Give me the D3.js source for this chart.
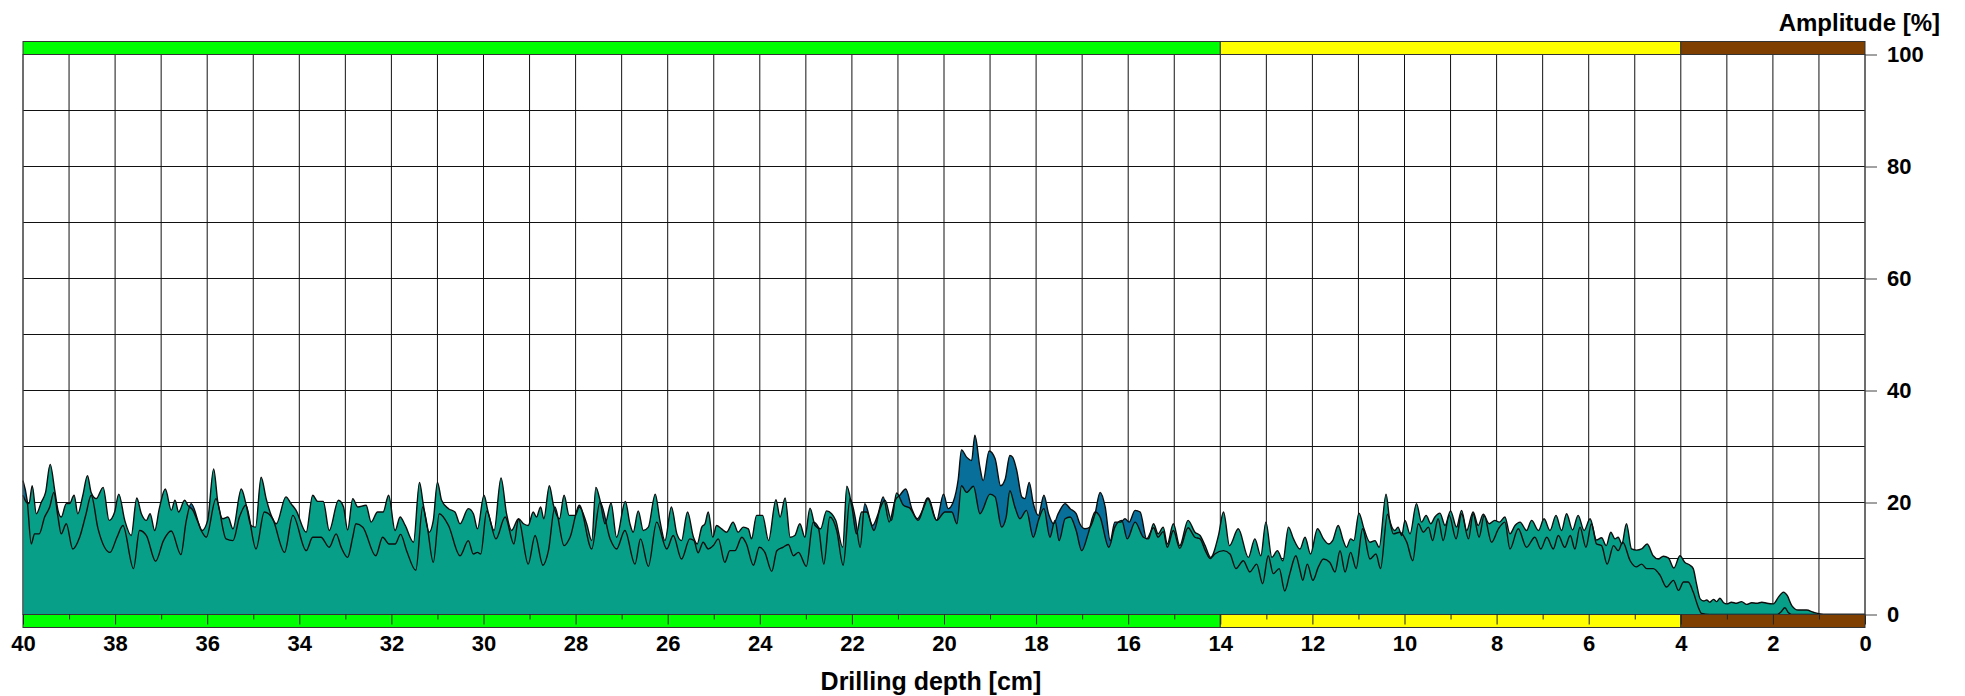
<!DOCTYPE html>
<html>
<head>
<meta charset="utf-8">
<script src="https://cdn.jsdelivr.net/npm/d3@7"></script>
<style>
  body { margin: 0; background: #fff; }
  text { font-family: "Liberation Sans", Arial, sans-serif; font-weight: bold; fill: #000; }
</style>
</head>
<body>
<div class="drill-chart"></div>
<script>
// [depth cm, amplitude %]
const tealSeries = [
  [40.00,21.3],[39.93,20.1],[39.87,19.8],[39.80,23.0],[39.71,18.0],[39.60,20.1],[39.51,21.8],[39.41,26.8],[39.31,22.1],[39.24,18.6],
  [39.17,17.4],[39.06,19.8],[38.99,19.8],[38.89,21.3],[38.81,18.0],[38.70,21.3],[38.60,24.8],[38.52,21.8],[38.41,20.7],[38.26,22.7],
  [38.13,16.8],[38.01,18.3],[37.92,21.5],[37.79,16.8],[37.65,14.1],[37.53,20.8],[37.43,18.0],[37.32,16.8],[37.24,18.0],[37.14,15.0],
  [37.04,18.9],[36.91,22.4],[36.78,18.6],[36.70,20.4],[36.62,18.3],[36.49,20.4],[36.42,19.5],[36.31,18.6],[36.20,16.5],[36.11,15.0],
  [35.99,16.8],[35.86,26.0],[35.77,20.1],[35.66,17.1],[35.55,17.4],[35.44,15.3],[35.26,22.4],[35.16,19.8],[35.05,15.9],[34.95,15.6],
  [34.83,24.5],[34.72,20.7],[34.61,17.7],[34.50,16.2],[34.29,21.0],[34.18,19.8],[34.07,18.6],[33.85,14.7],[33.71,21.3],[33.60,20.2],
  [33.48,20.2],[33.35,15.0],[33.15,20.4],[33.04,19.2],[32.95,15.1],[32.84,20.7],[32.73,19.2],[32.55,19.5],[32.44,16.5],[32.30,18.3],
  [32.18,18.3],[32.06,21.3],
  [31.92,15.0],[31.81,17.4],[31.70,15.9],[31.52,12.9],[31.39,23.6],[31.31,19.8],[31.18,14.7],[31.09,16.8],[31.00,23.6],[30.91,20.4],
  [30.76,18.9],[30.62,18.3],[30.51,16.2],[30.33,18.9],[30.22,18.0],[30.13,15.3],[29.99,21.3],[29.90,18.3],[29.77,15.0],[29.62,24.4],
  [29.50,18.0],[29.39,15.0],[29.24,17.1],[29.13,16.2],[29.03,15.9],[28.92,18.3],[28.85,17.4],[28.76,19.2],[28.69,17.1],[28.57,23.0],
  [28.48,19.5],[28.35,17.1],[28.25,21.3],[28.14,17.7],[28.01,17.7],[27.92,19.2],[27.76,16.2],[27.65,13.2],[27.56,22.7],[27.47,20.4],
  [27.36,16.2],[27.23,19.9],[27.11,13.8],[26.92,20.2],[26.82,16.2],[26.75,14.7],[26.64,18.5],[26.53,15.0],[26.42,15.6],[26.27,21.5],
  [26.17,16.8],[26.06,13.2],[25.92,19.2],[25.80,14.4],[25.70,13.2],[25.57,18.3],[25.44,13.8],
  [25.36,12.6],[25.26,15.6],[25.19,16.2],[25.12,18.3],[25.02,13.8],[24.94,15.9],[24.83,15.3],[24.72,14.7],[24.58,16.5],[24.47,14.7],
  [24.36,15.6],[24.25,15.3],[24.18,13.5],[24.07,17.7],[23.94,17.7],[23.81,13.2],[23.65,20.5],[23.56,17.4],[23.45,20.8],[23.34,13.8],
  [23.24,14.1],[23.13,16.2],[23.02,13.8],[22.91,19.0],[22.80,15.9],[22.68,15.3],[22.55,18.5],[22.44,18.0],[22.35,16.8],[22.20,12.0],
  [22.11,22.9],[22.00,19.2],[21.90,14.4],[21.79,18.3],[21.68,18.3],[21.52,15.0],[21.39,18.9],[21.28,20.4],[21.14,16.8],[21.03,21.7],
  [20.88,19.5],[20.74,19.0],[20.56,16.8],[20.36,20.8],[20.16,16.8],[19.98,18.3],[19.83,18.3],[19.72,16.2],[19.62,23.0],[19.51,21.8],
  [19.36,22.9],[19.22,18.0],[19.00,21.5],[18.89,21.0],
  [18.75,15.6],[18.65,17.4],[18.57,22.1],[18.46,19.2],[18.35,17.1],[18.21,18.6],[18.06,13.8],[17.95,16.8],[17.83,18.9],[17.70,13.8],
  [17.59,16.8],[17.50,13.2],[17.37,17.1],[17.26,17.4],[17.13,15.0],[17.01,11.4],[16.87,14.4],[16.72,18.3],[16.61,17.4],[16.42,12.0],
  [16.29,15.6],[16.14,16.8],[16.02,13.5],[15.85,16.5],[15.67,13.8],[15.56,13.5],[15.45,16.2],[15.35,14.4],[15.24,15.6],[15.15,12.6],
  [15.02,16.2],[14.88,12.3],[14.70,16.8],[14.55,14.7],[14.44,14.1],[14.33,12.3],[14.21,10.2],[14.04,14.1],[13.93,18.3],[13.80,12.3],
  [13.61,15.3],[13.39,10.2],[13.25,13.5],[13.12,10.5],[13.01,16.5],[12.88,10.2],[12.76,11.4],[12.64,9.6],[12.52,15.6],[12.41,13.5],
  [12.27,11.7],[12.16,13.8],[12.04,10.8],[11.89,15.3],[11.76,13.5],[11.65,12.6],[11.56,13.2],[11.44,15.9],[11.33,13.2],[11.26,12.0],
  [11.17,13.5],[11.10,13.2],[10.99,18.1],[10.88,15.3],[10.75,12.9],[10.64,13.2],[10.55,12.0],[10.40,21.5],[10.32,16.8],[10.21,15.0],
  [10.14,15.6],[10.06,14.1],[9.99,16.8],[9.88,14.4],[9.74,19.8],[9.63,16.5],[9.53,17.7],[9.43,16.2],[9.34,17.4],[9.23,18.1],
  [9.12,15.9],[9.00,18.5],[8.87,15.6],[8.76,18.6],[8.65,15.0],[8.51,18.3],[8.40,15.9],[8.29,17.9],[8.16,16.2],[8.04,16.8],
  [7.94,16.5],[7.82,17.4],[7.71,14.4],[7.60,15.9],[7.49,16.5],[7.35,15.0],[7.24,16.8],[7.09,15.0],[6.97,17.1],[6.84,15.0],
  [6.71,17.7],[6.59,15.0],[6.48,18.0],[6.35,15.1],[6.23,17.7],[6.10,15.0],[5.97,17.1],
  [5.83,13.3],[5.72,13.7],[5.62,12.3],[5.52,14.7],[5.43,13.5],[5.36,13.8],[5.28,12.6],[5.18,16.2],[5.07,11.7],[4.96,11.5],
  [4.85,11.7],[4.73,12.6],[4.60,10.5],[4.49,9.9],[4.38,10.4],[4.27,10.1],[4.15,8.3],[4.02,10.5],[3.91,9.3],[3.80,8.8],
  [3.73,8.2],[3.66,5.5],[3.58,2.8],[3.50,2.4],[3.44,2.6],[3.37,2.2],[3.29,2.7],[3.22,2.3],[3.15,2.9],[3.07,2.1],
  [3.00,1.9],[2.90,2.2],[2.79,2.0],[2.68,2.3],[2.57,1.8],[2.46,2.1],[2.35,2.0],[2.24,2.2],[2.13,2.0],[1.99,1.9],
  [1.88,3.1],[1.77,4.0],[1.69,3.4],[1.59,1.6],[1.45,0.8],[1.27,0.8],[1.12,0.4],[0.98,0.1],[0.83,0.0],[0.00,0.0]
];

const blueSeries = [
  [40.00,23.9],[39.91,20.4],[39.82,12.6],[39.75,14.4],[39.65,14.4],[39.53,17.4],[39.42,19.2],[39.33,21.8],[39.24,17.4],[39.17,14.4],
  [39.06,16.2],[38.92,11.7],[38.77,13.8],[38.63,18.0],[38.52,21.3],[38.37,15.3],[38.11,11.1],[37.96,13.8],[37.83,15.9],[37.60,8.2],
  [37.47,15.0],[37.32,14.1],[37.12,9.5],[36.95,13.2],[36.78,14.9],[36.57,10.7],[36.46,16.5],[36.35,19.8],[36.13,15.0],[36.02,13.8],
  [35.81,20.7],[35.59,13.5],[35.44,13.2],[35.30,17.4],[35.16,19.5],[34.94,11.7],[34.76,18.3],[34.58,17.1],[34.32,11.1],[34.14,17.7],
  [33.85,11.4],[33.71,13.8],[33.53,13.8],[33.35,12.0],[33.20,14.4],[33.09,12.0],[32.95,10.2],[32.84,13.8],[32.77,16.2],[32.62,15.6],
  [32.34,10.5],[32.19,13.8],[32.05,12.6],
  [31.92,12.6],[31.80,14.3],[31.67,11.4],[31.47,7.9],[31.32,19.2],[31.23,16.2],[31.09,9.3],[30.96,18.0],[30.76,15.9],[30.51,10.5],
  [30.33,13.2],[30.22,10.8],[30.13,11.1],[30.06,10.8],[29.93,18.5],[29.73,13.5],[29.53,17.4],[29.34,12.6],[29.24,17.0],[29.03,9.0],
  [28.88,14.1],[28.71,8.8],[28.59,11.4],[28.45,19.2],[28.25,12.3],[28.12,13.8],[27.92,19.5],[27.65,11.7],[27.47,20.1],[27.25,13.5],
  [27.11,11.7],[26.93,15.0],[26.71,9.0],[26.59,13.5],[26.42,8.6],[26.24,16.5],[26.02,11.7],[25.88,14.1],[25.70,9.9],[25.52,13.5],
  [25.43,13.2],[25.34,11.0],[25.23,12.9],[25.12,11.7],[25.01,12.3],[24.90,13.5],[24.76,9.3],[24.65,11.4],[24.54,11.4],[24.39,13.8],
  [24.29,12.6],[24.14,8.8],[24.01,12.0],[23.89,11.1],[23.74,7.7],[23.63,11.4],[23.50,12.0],[23.38,12.5],[23.27,10.5],[23.16,11.1],
  [22.99,8.6],[22.84,16.5],[22.73,15.6],[22.61,9.0],[22.48,17.4],[22.33,15.0],[22.19,8.8],[22.04,20.7],[21.93,17.4],[21.82,12.0],
  [21.72,19.8],[21.55,15.9],[21.43,18.0],[21.32,21.0],[21.19,16.5],[21.06,20.4],[20.96,21.3],[20.83,22.4],[20.70,18.9],[20.58,17.1],
  [20.45,18.9],[20.34,20.8],[20.16,16.8],[20.01,21.5],[19.91,18.9],[19.80,20.1],[19.69,24.2],[19.62,29.4],[19.51,28.1],[19.40,27.5],
  [19.33,32.0],[19.22,26.3],[19.15,23.9],[19.02,29.2],[18.89,27.8],
  [18.77,23.0],[18.67,24.2],[18.57,28.4],[18.51,28.1],[18.42,25.7],[18.31,21.0],[18.24,20.7],[18.15,23.6],[18.06,19.8],[17.95,17.7],
  [17.83,21.3],[17.73,18.0],[17.62,16.2],[17.52,18.0],[17.37,19.8],[17.26,18.9],[17.13,18.0],[17.05,16.2],[16.94,15.3],[16.83,15.6],
  [16.72,18.0],[16.61,21.8],[16.50,19.2],[16.39,13.2],[16.29,16.5],[16.16,16.5],[16.07,17.1],[15.98,16.5],[15.85,18.6],[15.74,18.3],
  [15.60,13.5],[15.45,15.5],[15.35,13.8],[15.24,14.8],[15.15,12.0],[15.02,15.0],[14.88,11.8],[14.70,15.5],[14.55,13.8],[14.44,13.5],
  [14.33,11.5],[14.22,10.0],[14.12,10.8],[13.93,11.4],[13.79,10.8],[13.66,8.2],[13.50,9.6],[13.36,7.6],[13.21,9.0],[13.08,5.5],
  [12.96,10.5],[12.85,7.3],[12.72,8.2],[12.60,4.2],[12.49,7.3],[12.36,10.5],[12.27,7.9],
  [12.21,6.1],[12.11,9.0],[11.99,6.1],[11.87,8.5],[11.76,9.9],[11.62,9.3],[11.51,7.6],[11.40,11.4],[11.29,7.6],[11.17,11.1],
  [11.05,8.2],[10.91,15.3],[10.75,9.9],[10.62,10.8],[10.52,8.2],[10.37,17.9],[10.24,14.4],[10.10,14.7],[9.95,12.9],[9.82,9.6],
  [9.70,16.2],[9.59,14.7],[9.48,15.6],[9.39,13.2],[9.27,17.1],[9.16,13.2],[9.03,17.7],[8.88,13.5],[8.76,18.0],[8.61,13.5],
  [8.51,18.0],[8.38,13.8],[8.27,17.7],[8.11,12.9],[7.96,15.3],[7.82,16.5],[7.71,11.7],[7.53,15.3],[7.35,12.0],[7.17,13.8],
  [7.04,11.7],[6.91,13.8],[6.77,11.7],[6.66,14.1],[6.52,12.0],[6.40,14.1],[6.30,11.7],[6.19,15.6],[6.06,12.0],[5.94,16.2],
  [5.83,12.6],[5.72,12.3],[5.60,9.0],[5.46,12.3],[5.36,11.4],[5.26,12.9],[5.10,9.6],[4.97,8.5],[4.85,9.0],[4.74,8.2],
  [4.60,8.2],[4.45,7.0],[4.31,4.9],[4.16,6.1],[4.05,4.3],[3.94,5.8],[3.84,5.8],[3.73,4.0],[3.62,1.3],[3.55,0.2],
  [3.37,0.0],[1.90,0.0],[1.82,0.5],[1.74,1.2],[1.66,0.3],[1.60,0.0],[0.00,0.0]
];

const depthLabels = [40, 38, 36, 34, 32, 30, 28, 26, 24, 22, 20, 18, 16, 14, 12, 10, 8, 6, 4, 2, 0];
const ampLabels = [0, 20, 40, 60, 80, 100];
const zoneFrom = [40, 14, 4];
const zoneTo = [14, 4, 0];
const zoneColors = ["#00ff00", "#ffff00", "#7f3f00"];

const W = 1965, H = 696;
const margin = { top: 54.5, right: 100, bottom: 81.5, left: 23 };
const width = W - margin.left - margin.right;   // 1842
const height = H - margin.top - margin.bottom;  // 560
const band = 13;

const svg = d3
  .select(".drill-chart")
  .append("svg")
  .attr("width", W)
  .attr("height", H)
  .append("g")
  .attr("transform", "translate(" + margin.left + "," + margin.top + ")");

const x = d3.scaleLinear().domain([40, 0]).range([0, width]);
const y = d3.scaleLinear().domain([0, 100]).range([height, 0]);

// grid
svg
  .append("g")
  .selectAll("line")
  .data(x.ticks(40))
  .join("line")
  .attr("x1", (d) => x(d))
  .attr("x2", (d) => x(d))
  .attr("y1", 0)
  .attr("y2", height)
  .attr("stroke", "#111")
  .attr("stroke-width", 1);

svg
  .append("g")
  .selectAll("line")
  .data(y.ticks(10))
  .join("line")
  .attr("x1", 0)
  .attr("x2", width)
  .attr("y1", (d) => y(d))
  .attr("y2", (d) => y(d))
  .attr("stroke", "#111")
  .attr("stroke-width", 1);

// amplitude areas
const area = d3
  .area()
  .x((d) => x(d[0]))
  .y0(y(0))
  .y1((d) => y(d[1]))
  .curve(d3.curveMonotoneX);

const line = d3
  .line()
  .x((d) => x(d[0]))
  .y((d) => y(d[1]))
  .curve(d3.curveMonotoneX);

svg.append("path").datum(blueSeries).attr("fill", "#076f99").attr("d", area);
svg.append("path").datum(tealSeries).attr("fill", "#089f88").attr("d", area);

[blueSeries, tealSeries].forEach((s) => {
  svg
    .append("path")
    .datum(s)
    .attr("fill", "none")
    .attr("stroke", "#0d0d0d")
    .attr("stroke-width", 1.4)
    .attr("stroke-linejoin", "round")
    .attr("d", line);
});

// plot frame
svg
  .append("rect")
  .attr("x", 0)
  .attr("y", 0)
  .attr("width", width)
  .attr("height", height)
  .attr("fill", "none")
  .attr("stroke", "#555");

// colour bands top and bottom
[-band, height].forEach((by) => {
  svg
    .append("g")
    .selectAll("rect")
    .data(zoneFrom)
    .join("rect")
    .attr("x", (d) => x(d))
    .attr("y", by)
    .attr("width", (d, i) => x(zoneTo[i]) - x(d))
    .attr("height", band)
    .attr("fill", (d, i) => zoneColors[i])
    .attr("stroke", "#333")
    .attr("stroke-width", 1);
});

// ticks inside the bottom band
const evenTicks = x.ticks(40).filter((d) => d % 2 === 0);
const oddTicks = x.ticks(40).filter((d) => d % 2 === 1);
svg
  .append("g")
  .attr("transform", `translate(0, ${height})`)
  .call(d3.axisBottom(x).tickValues(evenTicks).tickSize(10).tickFormat(""))
  .call((g) => g.select(".domain").remove())
  .selectAll("line")
  .attr("stroke", "#222");
svg
  .append("g")
  .attr("transform", `translate(0, ${height})`)
  .call(d3.axisBottom(x).tickValues(oddTicks).tickSize(5).tickFormat(""))
  .call((g) => g.select(".domain").remove())
  .selectAll("line")
  .attr("stroke", "#222");

// x axis labels
const xGroup = svg
  .append("g")
  .attr("class", "axis x-axis")
  .attr("transform", `translate(0, ${height + band})`)
  .call(d3.axisBottom(x).tickValues(depthLabels).tickSize(0).tickPadding(8).tickFormat(d3.format("d")));
xGroup.select(".domain").remove();
xGroup.selectAll("text").attr("font-size", "22px").attr("font-family", null);

// y axis on the right
const yGroup = svg
  .append("g")
  .attr("class", "axis y-axis")
  .attr("transform", `translate(${width}, 0)`)
  .call(d3.axisRight(y).tickValues(ampLabels).tickSize(12).tickPadding(10));
yGroup.select(".domain").remove();
yGroup.selectAll("line").attr("stroke", "#444");
yGroup.selectAll("text").attr("font-size", "22px").attr("font-family", null);

svg
  .append("text")
  .attr("x", W - margin.left - 25)
  .attr("y", -24)
  .attr("text-anchor", "end")
  .attr("font-size", "24px")
  .text("Amplitude [%]");

svg
  .append("text")
  .attr("x", 908)
  .attr("y", height + 75)
  .attr("text-anchor", "middle")
  .attr("font-size", "25px")
  .text("Drilling depth [cm]");
</script>
</body>
</html>
